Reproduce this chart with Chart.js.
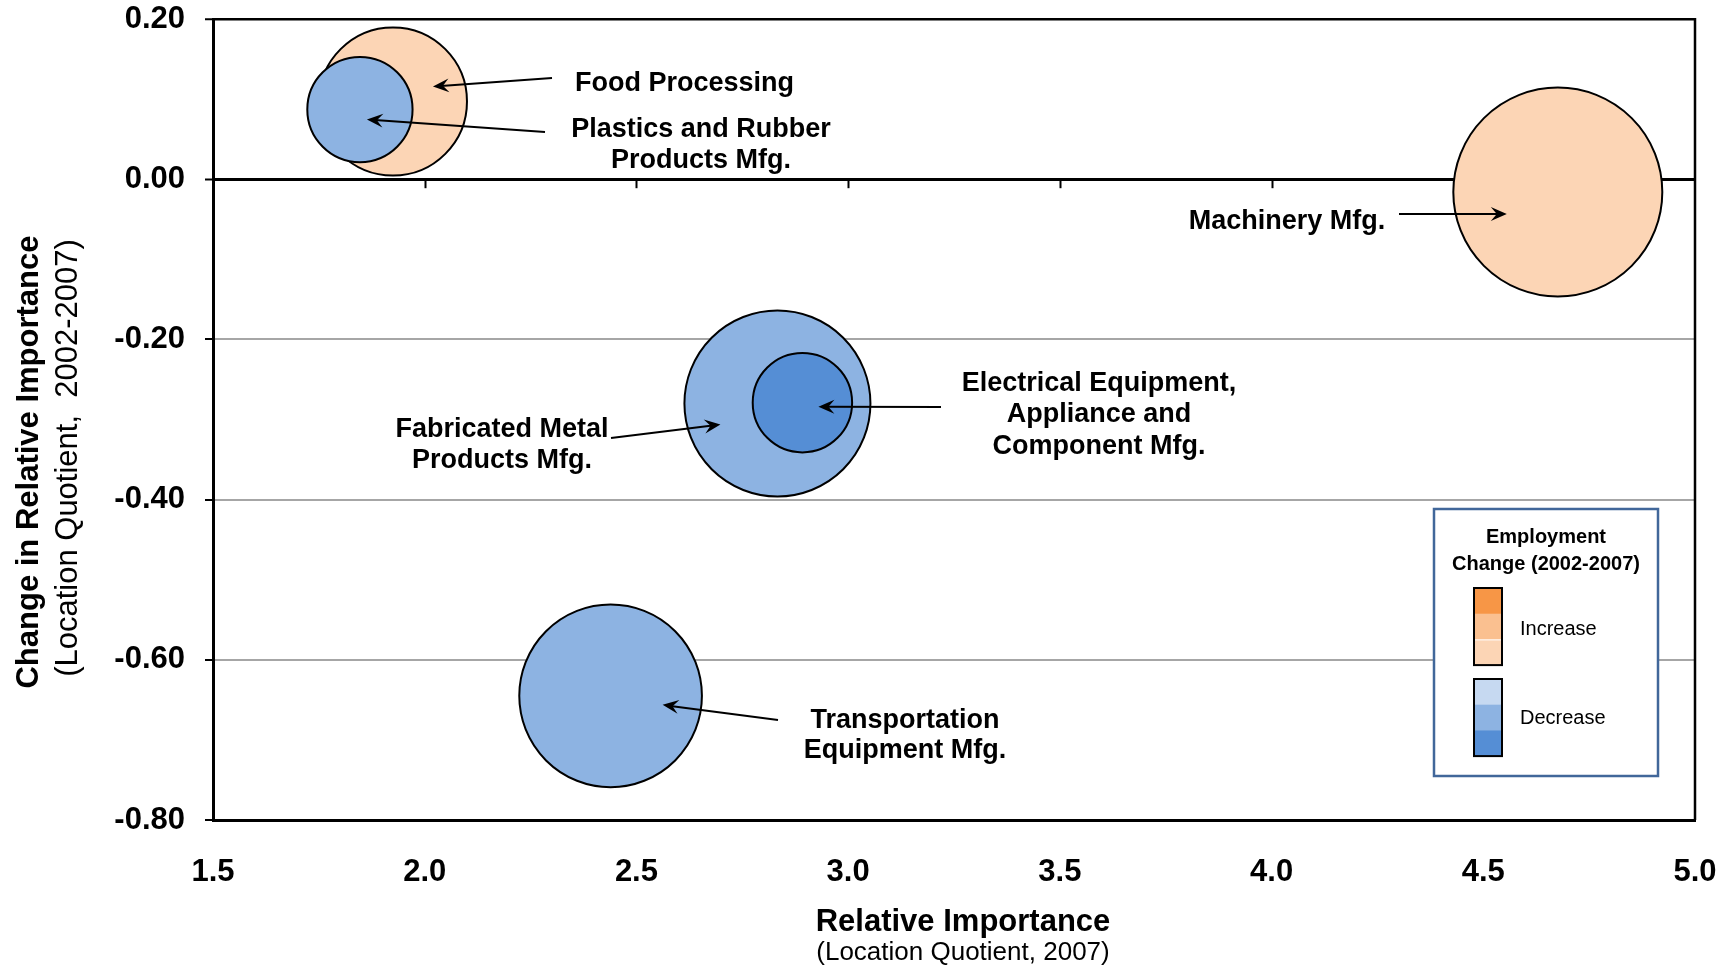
<!DOCTYPE html>
<html>
<head>
<meta charset="utf-8">
<script src="https://cdn.jsdelivr.net/npm/chart.js@4.4.0/dist/chart.umd.min.js"></script>
<style>
html,body{margin:0;padding:0;background:#fff;}
#wrap{width:1735px;height:974px;position:relative;}
canvas{display:block;}
</style>
</head>
<body>
<div id="wrap"><canvas id="c" width="1735" height="974"></canvas></div>
<script>
// ---------------- data ----------------
const industries = [
  'Food Processing',
  'Plastics and Rubber Products Mfg.',
  'Machinery Mfg.',
  'Fabricated Metal Products Mfg.',
  'Electrical Equipment, Appliance and Component Mfg.',
  'Transportation Equipment Mfg.'
];
const relativeImportance2007 = [1.925, 1.847, 4.676, 2.833, 2.892, 2.439];
const changeInRelativeImportance = [0.097, 0.087, -0.016, -0.280, -0.279, -0.645];
const employmentSize = [54.8, 27.7, 109.2, 86.5, 24.7, 83.4];   // relative employment (bubble area)
const employmentChange = ['Increase', 'Decrease', 'Increase', 'Decrease', 'Decrease', 'Decrease'];
const changeLevel = [0, 1, 0, 1, 2, 1];                          // shade index within the legend ramp
const xTickValues = [1.5, 2.0, 2.5, 3.0, 3.5, 4.0, 4.5, 5.0];
const yTickValues = [0.2, 0.0, -0.2, -0.4, -0.6, -0.8];
const labelLines = [
  ['Food Processing'],
  ['Plastics and Rubber', 'Products Mfg.'],
  ['Machinery Mfg.'],
  ['Fabricated Metal', 'Products Mfg.'],
  ['Electrical Equipment,', 'Appliance and', 'Component Mfg.'],
  ['Transportation', 'Equipment Mfg.']
];
const legendTitle = ['Employment', 'Change (2002-2007)'];
const legendItems = ['Increase', 'Decrease'];
const xTitle = 'Relative Importance';
const xSubtitle = '(Location Quotient, 2007)';
const yTitle = 'Change in Relative Importance';
const ySubtitle = '(Location Quotient,  2002-2007)';

// ---------------- styles ----------------
const increaseRamp = ['#FCD5B5', '#FAC090', '#F79646']; // light -> dark
const decreaseRamp = ['#C6D9F1', '#8DB3E2', '#558ED5'];
const bubbleFill = employmentChange.map((c, i) => {
  const lv = changeLevel[i];
  return c === 'Increase' ? increaseRamp[lv] : decreaseRamp[lv];
});
const FONT = '"Liberation Sans", Arial, Helvetica, sans-serif';

// annotation layout (text anchor, arrow tail, arrow-tip offset from bubble centre)
const annLayout = [
  {x: 575, ys: [81], align: 'left', tail: [552, 78], tip: [40, -15]},
  {x: 701, ys: [127, 158], align: 'center', tail: [545, 132], tip: [7, 10]},
  {x: 1287, ys: [219], align: 'center', tail: [1399, 214], tip: [-51, 22]},
  {x: 502, ys: [427, 458], align: 'center', tail: [611, 438], tip: [-57, 21]},
  {x: 1099, ys: [381, 412, 444], align: 'center', tail: [941, 407], tip: [16, 4]},
  {x: 905, ys: [718, 748], align: 'center', tail: [778, 720], tip: [52, 9]}
];

function drawArrow(ctx, x1, y1, x2, y2) {
  const a = Math.atan2(y2 - y1, x2 - x1);
  ctx.beginPath();
  ctx.moveTo(x1, y1);
  ctx.lineTo(x2 - Math.cos(a) * 8, y2 - Math.sin(a) * 8);
  ctx.stroke();
  ctx.save();
  ctx.translate(x2, y2);
  ctx.rotate(a);
  ctx.beginPath();
  ctx.moveTo(0, 0);
  ctx.lineTo(-16, -7);
  ctx.lineTo(-10, 0);
  ctx.lineTo(-16, 7);
  ctx.closePath();
  ctx.fill();
  ctx.restore();
}

function capText(ctx, txt, x, capCenterY, size) {
  ctx.fillText(txt, x, capCenterY + 0.358 * size);
}

const extras = {
  id: 'extras',
  beforeDatasetsDraw(chart) {
    const ctx = chart.ctx, a = chart.chartArea;
    const xs = chart.scales.x, ys = chart.scales.y;
    ctx.save();
    // tick marks hanging below the zero line
    const y0 = ys.getPixelForValue(0);
    ctx.strokeStyle = '#000';
    ctx.lineWidth = 2;
    xTickValues.slice(1, -1).forEach(v => {
      const px = Math.round(xs.getPixelForValue(v)) + 0.5;
      ctx.beginPath();
      ctx.moveTo(px, y0);
      ctx.lineTo(px, y0 + 9);
      ctx.stroke();
    });
    // right border
    ctx.lineWidth = 2.5;
    ctx.beginPath();
    ctx.moveTo(a.right, a.top - 1);
    ctx.lineTo(a.right, a.bottom);
    ctx.stroke();
    ctx.restore();
  },
  afterDatasetsDraw(chart) {
    const ctx = chart.ctx;
    const xs = chart.scales.x, ys = chart.scales.y;
    ctx.save();
    // annotations
    ctx.fillStyle = '#000';
    ctx.strokeStyle = '#000';
    ctx.lineWidth = 2;
    const fs = 27;
    ctx.font = 'bold ' + fs + 'px ' + FONT;
    labelLines.forEach((lines, i) => {
      const L = annLayout[i];
      ctx.textAlign = L.align;
      ctx.textBaseline = 'alphabetic';
      lines.forEach((t, k) => capText(ctx, t, L.x, L.ys[k], fs));
      const cx = xs.getPixelForValue(relativeImportance2007[i]);
      const cy = ys.getPixelForValue(changeInRelativeImportance[i]);
      drawArrow(ctx, L.tail[0], L.tail[1], cx + L.tip[0], cy + L.tip[1]);
    });

    // legend box
    const bx = 1434, by = 509, bw = 224, bh = 267;
    ctx.fillStyle = '#fff';
    ctx.fillRect(bx, by, bw, bh);
    ctx.strokeStyle = '#41679A';
    ctx.lineWidth = 2.5;
    ctx.strokeRect(bx, by, bw, bh);
    ctx.fillStyle = '#000';
    ctx.textAlign = 'center';
    ctx.font = 'bold 20px ' + FONT;
    capText(ctx, legendTitle[0], 1546, 536, 20);
    capText(ctx, legendTitle[1], 1546, 563, 20);
    // colour ramps
    const rx = 1474, rw = 28;
    const rampTops = [588, 679];
    const ramps = [[increaseRamp[2], increaseRamp[1], increaseRamp[0]], [decreaseRamp[0], decreaseRamp[1], decreaseRamp[2]]];
    ramps.forEach((r, j) => {
      const top = rampTops[j], segH = 25.7;
      r.forEach((c, k) => {
        ctx.fillStyle = c;
        ctx.fillRect(rx, top + k * segH, rw, segH + 0.5);
      });
      if (j === 0) {
        ctx.strokeStyle = '#fff';
        ctx.lineWidth = 1;
        ctx.beginPath();
        ctx.moveTo(rx, top + 2 * segH + 0.5);
        ctx.lineTo(rx + rw, top + 2 * segH + 0.5);
        ctx.stroke();
      }
      ctx.strokeStyle = '#000';
      ctx.lineWidth = 2;
      ctx.strokeRect(rx, top, rw, segH * 3);
    });
    ctx.fillStyle = '#000';
    ctx.textAlign = 'left';
    ctx.font = '20px ' + FONT;
    capText(ctx, legendItems[0], 1520, 628, 20);
    capText(ctx, legendItems[1], 1520, 717, 20);

    // axis titles
    ctx.textAlign = 'center';
    ctx.font = 'bold 31px ' + FONT;
    capText(ctx, xTitle, 963, 920, 31);
    ctx.font = '26px ' + FONT;
    capText(ctx, xSubtitle, 963, 951, 26);
    ctx.save();
    ctx.translate(27, 462);
    ctx.rotate(-Math.PI / 2);
    ctx.font = 'bold 31px ' + FONT;
    capText(ctx, yTitle, 0, 0, 31);
    ctx.restore();
    ctx.save();
    ctx.translate(66, 458);
    ctx.rotate(-Math.PI / 2);
    ctx.font = '31px ' + FONT;
    capText(ctx, ySubtitle, 0, 0, 30);
    ctx.restore();
    ctx.restore();
  }
};

const tickFont = {family: FONT, weight: 'bold', size: 31};

new Chart(document.getElementById('c').getContext('2d'), {
  type: 'bubble',
  data: {
    datasets: [{
      label: 'Industries',
      data: industries.map((n, i) => ({
        x: relativeImportance2007[i],
        y: changeInRelativeImportance[i],
        r: Math.sqrt(employmentSize[i]) * 10
      })),
      backgroundColor: bubbleFill,
      borderColor: '#000',
      borderWidth: 2,
      hoverBorderWidth: 2,
      hoverRadius: 0
    }]
  },
  options: {
    responsive: false,
    animation: false,
    devicePixelRatio: 1,
    events: [],
    clip: false,
    layout: {autoPadding: false, padding: {left: 0, top: 19, right: 40, bottom: 0}},
    plugins: {legend: {display: false}, tooltip: {enabled: false}},
    scales: {
      x: {
        type: 'linear',
        position: 'bottom',
        min: 1.5,
        max: 5.0,
        afterBuildTicks: s => { s.ticks = xTickValues.map(v => ({value: v})); },
        afterFit: s => { s.height = 154; s.paddingLeft = 0; s.paddingRight = 0; },
        grid: {display: false, drawTicks: false},
        border: {display: true, color: '#000', width: 3},
        ticks: {
          font: tickFont,
          color: '#000',
          padding: 34,
          maxRotation: 0,
          autoSkip: false,
          callback: v => Number(v).toFixed(1)
        }
      },
      y: {
        type: 'linear',
        position: 'left',
        min: -0.8,
        max: 0.2,
        afterBuildTicks: s => { s.ticks = yTickValues.map(v => ({value: v})); },
        afterFit: s => { s.width = 213; s.paddingTop = 0; s.paddingBottom = 0; },
        grid: {
          drawTicks: true,
          tickLength: 8,
          tickColor: '#000',
          tickWidth: 2,
          color: c => {
            const v = c.tick ? Math.round(c.tick.value * 100) : 1;
            return (v === 0 || v === 20 || v === -80) ? '#000' : '#A6A6A6';
          },
          lineWidth: c => {
            const v = c.tick ? Math.round(c.tick.value * 100) : 1;
            if (v === 0) return 3;
            if (v === 20) return 2.5;
            return 2;
          }
        },
        border: {display: true, color: '#000', width: 3},
        ticks: {
          font: tickFont,
          color: '#000',
          padding: 20,
          autoSkip: false,
          callback: v => Number(v).toFixed(2)
        }
      }
    }
  },
  plugins: [extras]
});
</script>
</body>
</html>
